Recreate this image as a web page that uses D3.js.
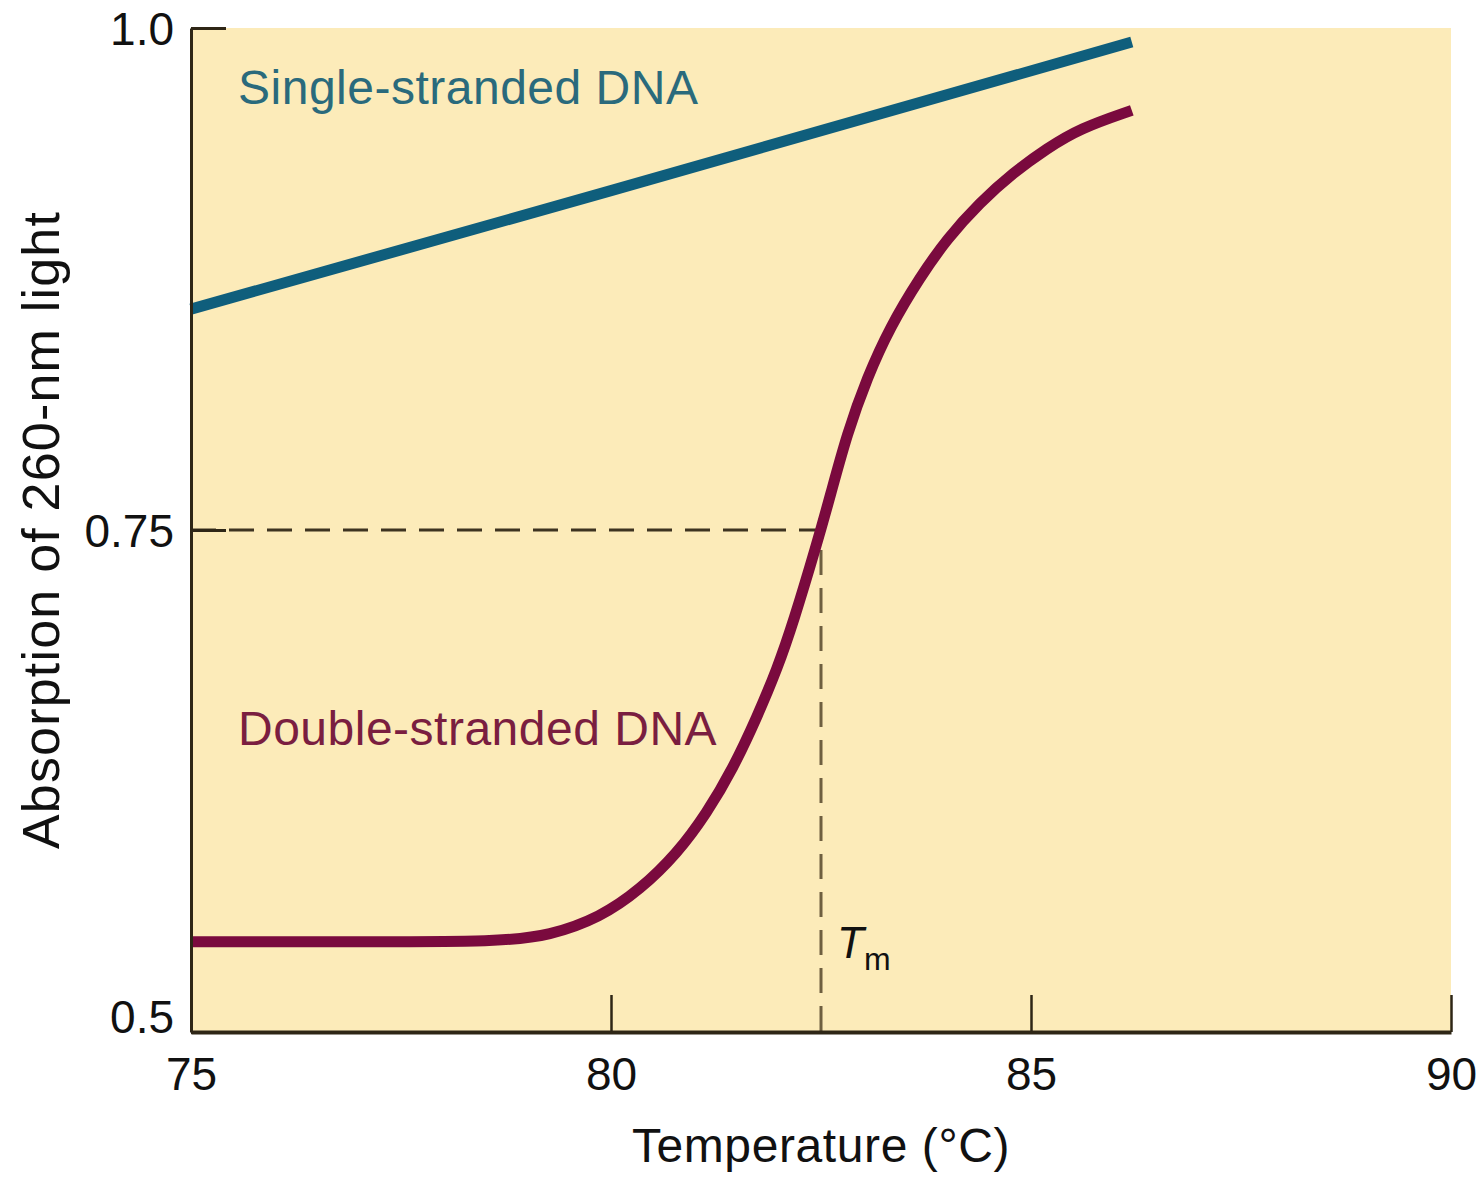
<!DOCTYPE html>
<html lang="en">
<head>
<meta charset="utf-8">
<title>DNA melting curve</title>
<script src="https://cdn.jsdelivr.net/npm/d3@7"></script>
<style>
    body { margin: 0; background: #fff; }
    svg text { font-family: "Liberation Sans", Arial, sans-serif; }
    .axis path, .axis line { stroke: #2e2616; }
    .axis text { font-size: 46px; fill: #111; }
    .dash { fill: none; stroke: #3d3320; stroke-width: 3; stroke-dasharray: 25, 13; }
    .curve { fill: none; stroke-width: 11; stroke-linecap: butt; }
</style>
</head>
<body>
<script>
    var w = 1484, h = 1179;
    var margin = { top: 28, right: 33, bottom: 147, left: 191 };

    // single-stranded DNA (straight line)
    var ssTemp = [75, 80, 86.2];
    var ssAbs  = [0.860, 0.919, 0.993];

    // double-stranded DNA (melting curve)
    var dsTemp = [75, 77, 78.68, 79.27, 79.87, 80.35, 80.79, 81.14, 81.45, 81.74, 81.98,
                  82.17, 82.45, 82.61, 82.81, 83.05, 83.32, 83.68, 84.0, 84.39, 84.79,
                  85.19, 85.58, 86.2];
    var dsAbs  = [0.545, 0.545, 0.545, 0.548, 0.557, 0.571, 0.589, 0.609, 0.631, 0.657, 0.681,
                  0.704, 0.743, 0.767, 0.798, 0.826, 0.851, 0.876, 0.895, 0.913, 0.928,
                  0.940, 0.950, 0.959];

    var tm = 82.5, tmAbs = 0.75;

    var xTicks = [75, 80, 85, 90];
    var yTicks = [0.5, 0.75, 1.0];
    var yTickLabels = ["0.5", "0.75", "1.0"];

    var xScale = d3.scaleLinear().domain([75, 90]).range([margin.left, w - margin.right]);
    var yScale = d3.scaleLinear().domain([0.5, 1.0]).range([h - margin.bottom, margin.top]);

    var svg = d3.select("body").append("svg")
        .attr("width", w)
        .attr("height", h);

    // plot background
    svg.append("rect")
        .attr("x", xScale(75))
        .attr("y", yScale(1.0))
        .attr("width", xScale(90) - xScale(75))
        .attr("height", yScale(0.5) - yScale(1.0))
        .attr("fill", "#fcebb9");

    // Tm guide lines
    svg.append("line")
        .attr("class", "dash")
        .attr("x1", xScale(75)).attr("y1", yScale(tmAbs))
        .attr("x2", xScale(tm)).attr("y2", yScale(tmAbs));
    svg.append("line")
        .attr("class", "dash")
        .style("stroke", "#6e5f40")
        .attr("x1", xScale(tm)).attr("y1", yScale(tmAbs) + 20)
        .attr("x2", xScale(tm)).attr("y2", yScale(0.5));

    var line = d3.line()
        .x(function(d) { return xScale(d[0]); })
        .y(function(d) { return yScale(d[1]); });

    svg.append("path")
        .datum(d3.zip(ssTemp, ssAbs))
        .attr("class", "curve")
        .attr("stroke", "#0f5e7c")
        .attr("d", line);

    svg.append("path")
        .datum(d3.zip(dsTemp, dsAbs))
        .attr("class", "curve")
        .attr("stroke", "#7a0a3e")
        .attr("d", line.curve(d3.curveBasis));

    // axes
    var xAxis = d3.axisBottom(xScale)
        .tickValues(xTicks)
        .tickFormat(d3.format("d"))
        .tickSizeInner(-37)
        .tickSizeOuter(0)
        .tickPadding(25);

    var yAxis = d3.axisLeft(yScale)
        .tickValues(yTicks)
        .tickFormat(function(d, i) { return yTickLabels[i]; })
        .tickSizeInner(-35)
        .tickSizeOuter(0)
        .tickPadding(17);

    var gx = svg.append("g")
        .attr("class", "axis")
        .attr("transform", "translate(0," + yScale(0.5) + ")")
        .call(xAxis);
    gx.select(".domain").attr("stroke-width", 4);
    gx.selectAll(".tick line").attr("stroke-width", 2.5);

    var gy = svg.append("g")
        .attr("class", "axis")
        .attr("transform", "translate(" + xScale(75) + ",0)")
        .call(yAxis);
    gy.select(".domain").attr("stroke-width", 3);
    gy.selectAll(".tick line").attr("stroke-width", 3);
    gy.selectAll(".tick text")
        .attr("dy", function(d) { return d === 0.5 ? "-0.0em" : "0.36em"; });

    // series labels
    svg.append("text")
        .attr("x", 238).attr("y", yScale(0.962))
        .attr("font-size", 48)
        .attr("letter-spacing", 0.5)
        .attr("fill", "#2a6a7c")
        .text("Single-stranded DNA");

    svg.append("text")
        .attr("x", 238).attr("y", yScale(0.643))
        .attr("font-size", 48)
        .attr("letter-spacing", 0.5)
        .attr("fill", "#7a1e40")
        .text("Double-stranded DNA");

    // Tm label
    var tmText = svg.append("text")
        .attr("x", xScale(tm) + 16)
        .attr("y", yScale(0.537))
        .attr("font-size", 44)
        .attr("fill", "#111");
    tmText.append("tspan").attr("font-style", "italic").text("T");
    tmText.append("tspan").attr("font-size", 32).attr("dy", 12).text("m");

    // axis titles
    svg.append("text")
        .attr("x", xScale(82.5))
        .attr("y", 1162)
        .attr("text-anchor", "middle")
        .attr("font-size", 48)
        .attr("letter-spacing", 0.6)
        .attr("fill", "#111")
        .text("Temperature (\u00B0C)");

    svg.append("text")
        .attr("transform", "translate(59," + yScale(0.75) + ") rotate(-90)")
        .attr("text-anchor", "middle")
        .attr("font-size", 52)
        .attr("letter-spacing", 1.2)
        .attr("fill", "#111")
        .text("Absorption of 260-nm light");
</script>
</body>
</html>
